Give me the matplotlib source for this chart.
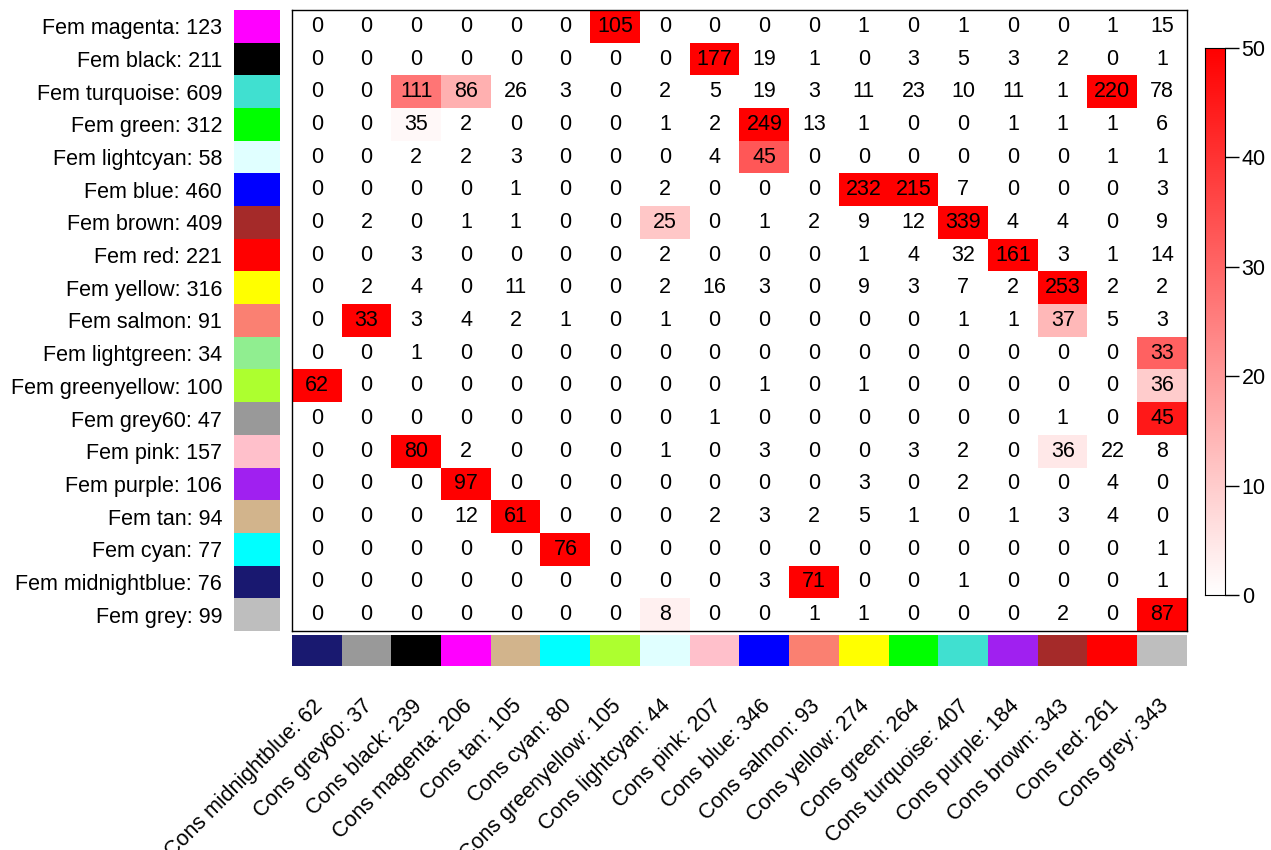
import numpy as np
import matplotlib.pyplot as plt
from matplotlib.colors import LinearSegmentedColormap

# module names and sizes
row_mods = ['magenta', 'black', 'turquoise', 'green', 'lightcyan', 'blue', 'brown', 'red',
            'yellow', 'salmon', 'lightgreen', 'greenyellow', 'grey60', 'pink', 'purple',
            'tan', 'cyan', 'midnightblue', 'grey']
row_sizes = [123, 211, 609, 312, 58, 460, 409, 221, 316, 91, 34, 100, 47, 157, 106, 94, 77, 76, 99]

col_mods = ['midnightblue', 'grey60', 'black', 'magenta', 'tan', 'cyan', 'greenyellow',
            'lightcyan', 'pink', 'blue', 'salmon', 'yellow', 'green', 'turquoise', 'purple',
            'brown', 'red', 'grey']
col_sizes = [62, 37, 239, 206, 105, 80, 105, 44, 207, 346, 93, 274, 264, 407, 184, 343, 261, 343]

# overlap counts (rows = Fem modules, cols = Cons modules)
counts = [
    [0, 0, 0, 0, 0, 0, 105, 0, 0, 0, 0, 1, 0, 1, 0, 0, 1, 15],
    [0, 0, 0, 0, 0, 0, 0, 0, 177, 19, 1, 0, 3, 5, 3, 2, 0, 1],
    [0, 0, 111, 86, 26, 3, 0, 2, 5, 19, 3, 11, 23, 10, 11, 1, 220, 78],
    [0, 0, 35, 2, 0, 0, 0, 1, 2, 249, 13, 1, 0, 0, 1, 1, 1, 6],
    [0, 0, 2, 2, 3, 0, 0, 0, 4, 45, 0, 0, 0, 0, 0, 0, 1, 1],
    [0, 0, 0, 0, 1, 0, 0, 2, 0, 0, 0, 232, 215, 7, 0, 0, 0, 3],
    [0, 2, 0, 1, 1, 0, 0, 25, 0, 1, 2, 9, 12, 339, 4, 4, 0, 9],
    [0, 0, 3, 0, 0, 0, 0, 2, 0, 0, 0, 1, 4, 32, 161, 3, 1, 14],
    [0, 2, 4, 0, 11, 0, 0, 2, 16, 3, 0, 9, 3, 7, 2, 253, 2, 2],
    [0, 33, 3, 4, 2, 1, 0, 1, 0, 0, 0, 0, 0, 1, 1, 37, 5, 3],
    [0, 0, 1, 0, 0, 0, 0, 0, 0, 0, 0, 0, 0, 0, 0, 0, 0, 33],
    [62, 0, 0, 0, 0, 0, 0, 0, 0, 1, 0, 1, 0, 0, 0, 0, 0, 36],
    [0, 0, 0, 0, 0, 0, 0, 0, 1, 0, 0, 0, 0, 0, 0, 1, 0, 45],
    [0, 0, 80, 2, 0, 0, 0, 1, 0, 3, 0, 0, 3, 2, 0, 36, 22, 8],
    [0, 0, 0, 97, 0, 0, 0, 0, 0, 0, 0, 3, 0, 2, 0, 0, 4, 0],
    [0, 0, 0, 12, 61, 0, 0, 0, 2, 3, 2, 5, 1, 0, 1, 3, 4, 0],
    [0, 0, 0, 0, 0, 76, 0, 0, 0, 0, 0, 0, 0, 0, 0, 0, 0, 1],
    [0, 0, 0, 0, 0, 0, 0, 0, 0, 3, 71, 0, 0, 1, 0, 0, 0, 1],
    [0, 0, 0, 0, 0, 0, 0, 8, 0, 0, 1, 1, 0, 0, 0, 2, 0, 87],
]

# -log10(p) used for cell colour (capped at 50)
neglogp = [
    [0, 0, 0, 0, 0, 0, 50, 0, 0, 0, 0, 0, 0, 0, 0, 0, 0, 0],
    [0, 0, 0, 0, 0, 0, 0, 0, 50, 0, 0, 0, 0, 0, 0, 0, 0, 0],
    [0, 0, 27, 15.5, 0, 0, 0, 0, 0, 0, 0, 0, 0, 0, 0, 0, 50, 0],
    [0, 0, 1.5, 0, 0, 0, 0, 0, 0, 50, 0, 0, 0, 0, 0, 0, 0, 0],
    [0, 0, 0, 0, 0, 0, 0, 0, 0, 33, 0, 0, 0, 0, 0, 0, 0, 0],
    [0, 0, 0, 0, 0, 0, 0, 0, 0, 0, 0, 50, 50, 0, 0, 0, 0, 0],
    [0, 0, 0, 0, 0, 0, 0, 11, 0, 0, 0, 0, 0, 50, 0, 0, 0, 0],
    [0, 0, 0, 0, 0, 0, 0, 0, 0, 0, 0, 0, 0, 0, 50, 0, 0, 0],
    [0, 0, 0, 0, 0, 0, 0, 0, 0, 0, 0, 0, 0, 0, 0, 50, 0, 0],
    [0, 50, 0, 0, 0, 0, 0, 0, 0, 0, 0, 0, 0, 0, 0, 14, 0, 0],
    [0, 0, 0, 0, 0, 0, 0, 0, 0, 0, 0, 0, 0, 0, 0, 0, 0, 31],
    [50, 0, 0, 0, 0, 0, 0, 0, 0, 0, 0, 0, 0, 0, 0, 0, 0, 10],
    [0, 0, 0, 0, 0, 0, 0, 0, 0, 0, 0, 0, 0, 0, 0, 0, 0, 45],
    [0, 0, 50, 0, 0, 0, 0, 0, 0, 0, 0, 0, 0, 0, 0, 4.5, 0, 0],
    [0, 0, 0, 50, 0, 0, 0, 0, 0, 0, 0, 0, 0, 0, 0, 0, 0, 0],
    [0, 0, 0, 0, 50, 0, 0, 0, 0, 0, 0, 0, 0, 0, 0, 0, 0, 0],
    [0, 0, 0, 0, 0, 50, 0, 0, 0, 0, 0, 0, 0, 0, 0, 0, 0, 0],
    [0, 0, 0, 0, 0, 0, 0, 0, 0, 0, 50, 0, 0, 0, 0, 0, 0, 0],
    [0, 0, 0, 0, 0, 0, 0, 3, 0, 0, 0, 0, 0, 0, 0, 0, 0, 50],
]

# R colour names -> hex
rcol = {'magenta': '#FF00FF', 'black': '#000000', 'turquoise': '#40E0D0', 'green': '#00FF00',
        'lightcyan': '#E0FFFF', 'blue': '#0000FF', 'brown': '#A52A2A', 'red': '#FF0000',
        'yellow': '#FFFF00', 'salmon': '#FA8072', 'lightgreen': '#90EE90',
        'greenyellow': '#ADFF2F', 'grey60': '#999999', 'pink': '#FFC0CB', 'purple': '#A020F0',
        'tan': '#D2B48C', 'cyan': '#00FFFF', 'midnightblue': '#191970', 'grey': '#BEBEBE'}

plt.rcParams['font.family'] = ['Liberation Sans', 'DejaVu Sans']
fs = 15.5
W, H = 1271, 850
nr, nc = len(row_mods), len(col_mods)


def box(x0, y0, x1, y1):
    # pixel box (top-left origin) -> figure fraction rect
    return [x0 / W, 1 - y1 / H, (x1 - x0) / W, (y1 - y0) / H]


cmap = LinearSegmentedColormap.from_list('wr', ['white', 'red'])
fig = plt.figure(figsize=(W / 100, H / 100), dpi=100)

ax = fig.add_axes(box(292, 10, 1187, 631))
ax.imshow(np.array(neglogp), cmap=cmap, vmin=0, vmax=50, aspect='auto', interpolation='nearest')
for i in range(nr):
    for j in range(nc):
        ax.text(j, i, str(counts[i][j]), ha='center', va='center', fontsize=fs)
ax.set_xticks([])
ax.set_yticks([])
for s in ax.spines.values():
    s.set_linewidth(1)

# row colour strip + labels
axr = fig.add_axes(box(234, 10, 280, 631))
axr.imshow(np.arange(nr).reshape(-1, 1),
           cmap=LinearSegmentedColormap.from_list('r', [rcol[m] for m in row_mods], N=nr),
           aspect='auto', interpolation='nearest')
axr.set_xticks([])
axr.set_yticks(range(nr))
axr.set_yticklabels([f'Fem {m}: {n}' for m, n in zip(row_mods, row_sizes)], fontsize=fs)
axr.tick_params(axis='y', length=0, pad=8.5)
for s in axr.spines.values():
    s.set_visible(False)

# column colour strip + labels
axc = fig.add_axes(box(292, 635, 1187, 666))
axc.imshow(np.arange(nc).reshape(1, -1),
           cmap=LinearSegmentedColormap.from_list('c', [rcol[m] for m in col_mods], N=nc),
           aspect='auto', interpolation='nearest')
axc.set_xticks([])
axc.set_yticks([])
for s in axc.spines.values():
    s.set_visible(False)
for j, (m, n) in enumerate(zip(col_mods, col_sizes)):
    x = (292 + (j + 0.5) * (1187 - 292) / nc + 3) / W
    fig.text(x, 1 - 703 / H, f'Cons {m}: {n}', rotation=45, rotation_mode='anchor',
             ha='right', va='center', fontsize=fs)

# colour legend
axl = fig.add_axes(box(1205, 48, 1225, 595))
axl.imshow(np.linspace(50, 0, 256).reshape(-1, 1), cmap=cmap, vmin=0, vmax=50,
           aspect='auto', extent=[0, 1, 0, 50])
axl.set_xticks([])
axl.yaxis.tick_right()
axl.set_yticks([0, 10, 20, 30, 40, 50])
axl.tick_params(axis='y', length=10, width=1, labelsize=fs, pad=2)

plt.savefig('out.png', dpi=100)
